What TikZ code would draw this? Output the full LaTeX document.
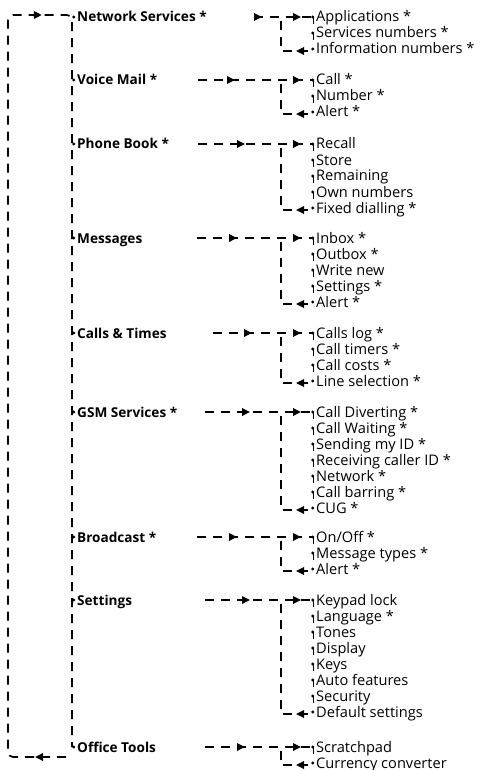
\documentclass[tikz,border=0pt]{standalone}
\usepackage{fontspec}
\setmainfont{Open Sans}
\usetikzlibrary{arrows.meta,decorations.markings}

\tikzset{
 dot/.style={circle,fill,inner sep=0pt,minimum size=3.2pt,xshift=-1.4pt},
 menu/.style={anchor=west,inner sep=0pt,text height=10pt,text depth=0pt,
  font=\fontsize{13.6}{16}\selectfont\bfseries,label={[dot]left:{}}},
 entry/.style={menu,font=\fontsize{14.6}{16}\selectfont},
 flow/.style={line width=1.7pt,dash pattern=on 9pt off 7pt},
 twig/.style={line width=1pt,dash pattern=on 7pt off 9pt},
 fwd/.style={postaction={decorate,decoration={markings,
  mark=at position #1 with {\arrow{Triangle[length=8pt,width=7.5pt]}}}}}
}

\begin{document}
\begin{tikzpicture}[x=1pt,y=-1pt]
 \useasboundingbox (0,0) rectangle (482,770);

 % main menu
 \node[menu] (ns) at (77,17) {Network Services *};
 \node[menu] (vm) at (77,80) {Voice Mail *};
 \node[menu] (pb) at (77,144) {Phone Book *};
 \node[menu] (msg) at (77,238) {Messages};
 \node[menu] (ct) at (77,333) {Calls \& Times};
 \node[menu] (gsm) at (77,412) {GSM Services *};
 \node[menu] (bc) at (77,537) {Broadcast *};
 \node[menu] (set) at (77,600) {Settings};
 \node[menu] (ot) at (77,747) {Office Tools};

 % sub menus
 \node[entry] (ns1) at (316,17) {Applications *};
 \node[entry] (ns2) at (316,33) {Services numbers *};
 \node[entry] (ns3) at (316,49) {Information numbers *};

 \node[entry] (vm1) at (316,80) {Call *};
 \node[entry] (vm2) at (316,96) {Number *};
 \node[entry] (vm3) at (316,112) {Alert *};

 \node[entry] (pb1) at (316,144) {Recall};
 \node[entry] (pb2) at (316,160) {Store};
 \node[entry] (pb3) at (316,176) {Remaining};
 \node[entry] (pb4) at (316,192) {Own numbers};
 \node[entry] (pb5) at (316,208) {Fixed dialling *};

 \node[entry] (msg1) at (316,238) {Inbox *};
 \node[entry] (msg2) at (316,254) {Outbox *};
 \node[entry] (msg3) at (316,270) {Write new};
 \node[entry] (msg4) at (316,286) {Settings *};
 \node[entry] (msg5) at (316,302) {Alert *};

 \node[entry] (ct1) at (316,333) {Calls log *};
 \node[entry] (ct2) at (316,349) {Call timers *};
 \node[entry] (ct3) at (316,365) {Call costs *};
 \node[entry] (ct4) at (316,381) {Line selection *};

 \node[entry] (gsm1) at (316,412) {Call Diverting *};
 \node[entry] (gsm2) at (316,428) {Call Waiting *};
 \node[entry] (gsm3) at (316,444) {Sending my ID *};
 \node[entry] (gsm4) at (316,460) {Receiving caller ID *};
 \node[entry] (gsm5) at (316,476) {Network *};
 \node[entry] (gsm6) at (316,492) {Call barring *};
 \node[entry] (gsm7) at (316,508) {CUG *};

 \node[entry] (bc1) at (316,537) {On/Off *};
 \node[entry] (bc2) at (316,553) {Message types *};
 \node[entry] (bc3) at (316,569) {Alert *};

 \node[entry] (set1) at (316,600) {Keypad lock};
 \node[entry] (set2) at (316,616) {Language *};
 \node[entry] (set3) at (316,632) {Tones};
 \node[entry] (set4) at (316,648) {Display};
 \node[entry] (set5) at (316,664) {Keys};
 \node[entry] (set6) at (316,680) {Auto features};
 \node[entry] (set7) at (316,696) {Security};
 \node[entry] (set8) at (316,712) {Default settings};

 \node[entry] (ot1) at (316,747) {Scratchpad};
 \node[entry] (ot2) at (316,763) {Currency converter};

 % junctions of the sub menu loops
 \coordinate (nsT) at (281,17);
 \coordinate (vmT) at (281,80);
 \coordinate (pbT) at (281,144);
 \coordinate (msgT) at (281,238);
 \coordinate (ctT) at (281,333);
 \coordinate (gsmT) at (281,412);
 \coordinate (bcT) at (281,537);
 \coordinate (setT) at (281,600);
 \coordinate (otT) at (281,747);

 % main loop
 \coordinate (se) at (66,757);
 \coordinate (sw) at (8,757);
 \coordinate (nw) at (8,15);
 \coordinate (ne) at (72,15);
 \draw[flow,rounded corners=5pt,fwd=31pt,fwd=-760pt]
  (se) -- (sw) -- (nw) -- (ne) -- (ot.west -| 72,0);

 % into each sub menu
 \draw[flow,fwd=-51pt,fwd=-12pt] (ns.east -| 254,0) -- ([xshift=-3pt]ns1.west);
 \draw[flow,fwd=-78pt,fwd=-12pt] (vm.east -| 198,0) -- ([xshift=-3pt]vm1.west);
 \draw[flow,fwd=-68pt,fwd=-12pt] (pb.east -| 198,0) -- ([xshift=-3pt]pb1.west);
 \draw[flow,fwd=-76pt,fwd=-12pt] (msg.east -| 197,0) -- ([xshift=-3pt]msg1.west);
 \draw[flow,fwd=-61pt,fwd=-12pt] (ct.east -| 213,0) -- ([xshift=-3pt]ct1.west);
 \draw[flow,fwd=-63pt,fwd=-12pt] (gsm.east -| 205,0) -- ([xshift=-3pt]gsm1.west);
 \draw[flow,fwd=-76pt,fwd=-12pt] (bc.east -| 197,0) -- ([xshift=-3pt]bc1.west);
 \draw[flow,fwd=-63pt,fwd=-12pt] (set.east -| 205,0) -- ([xshift=-3pt]set1.west);
 \draw[flow,fwd=-68pt,fwd=-12pt] (ot.east -| 205,0) -- ([xshift=-3pt]ot1.west);

 % back from the last entry
 \draw[flow,fwd=12pt] ([xshift=-8pt,yshift=-2pt]ns3.west) -| (nsT);
 \draw[flow,fwd=12pt] ([xshift=-8pt,yshift=-2pt]vm3.west) -| (vmT);
 \draw[flow,fwd=12pt] ([xshift=-8pt,yshift=-2pt]pb5.west) -| (pbT);
 \draw[flow,fwd=12pt] ([xshift=-8pt,yshift=-2pt]msg5.west) -| (msgT);
 \draw[flow,fwd=12pt] ([xshift=-8pt,yshift=-2pt]ct4.west) -| (ctT);
 \draw[flow,fwd=12pt] ([xshift=-8pt,yshift=-2pt]gsm7.west) -| (gsmT);
 \draw[flow,fwd=12pt] ([xshift=-8pt,yshift=-2pt]bc3.west) -| (bcT);
 \draw[flow,fwd=12pt] ([xshift=-8pt,yshift=-2pt]set8.west) -| (setT);
 \draw[flow,fwd=12pt] ([xshift=-8pt,yshift=-2pt]ot2.west) -| (otT);

 % down through the entries
 \draw[twig] ([xshift=-3pt]ns1.west) -- ([xshift=-3pt]ns3.west);
 \draw[twig] ([xshift=-3pt]vm1.west) -- ([xshift=-3pt]vm3.west);
 \draw[twig] ([xshift=-3pt]pb1.west) -- ([xshift=-3pt]pb5.west);
 \draw[twig] ([xshift=-3pt]msg1.west) -- ([xshift=-3pt]msg5.west);
 \draw[twig] ([xshift=-3pt]ct1.west) -- ([xshift=-3pt]ct4.west);
 \draw[twig] ([xshift=-3pt]gsm1.west) -- ([xshift=-3pt]gsm7.west);
 \draw[twig] ([xshift=-3pt]bc1.west) -- ([xshift=-3pt]bc3.west);
 \draw[twig] ([xshift=-3pt]set1.west) -- ([xshift=-3pt]set8.west);
 \draw[twig] ([xshift=-3pt]ot1.west) -- ([xshift=-3pt]ot2.west);
\end{tikzpicture}
\end{document}
